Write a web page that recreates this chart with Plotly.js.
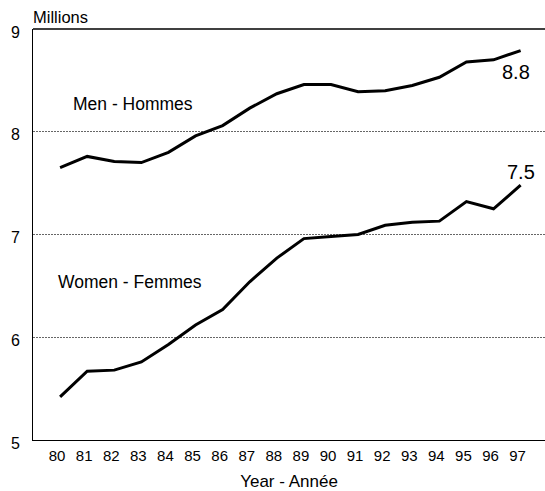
<!DOCTYPE html>
<html>
<head>
<meta charset="utf-8">
<script src="https://cdn.plot.ly/plotly-3.0.1.min.js"></script>
<style>html,body{margin:0;padding:0;background:#fff;}#chart{width:545px;height:491px;}</style>
</head>
<body>
<div id="chart"></div>
<script>
var years = [80,81,82,83,84,85,86,87,88,89,90,91,92,93,94,95,96,97];
var tickLabels = ["80","81","82","83","84","85","86","87","88","89","90","91","92","93","94","95","96","97"];
var men = [7.65,7.76,7.71,7.70,7.80,7.96,8.06,8.23,8.37,8.46,8.46,8.39,8.40,8.45,8.53,8.68,8.70,8.79];
var women = [5.42,5.67,5.68,5.76,5.93,6.12,6.27,6.54,6.77,6.96,6.98,7.00,7.09,7.12,7.13,7.32,7.25,7.48];
var yTicks = [5,6,7,8,9];
var font = "Liberation Sans, Arial, sans-serif";

var traces = [
  {x: years, y: men, type: "scatter", mode: "lines", line: {color: "#000", width: 3}, hoverinfo: "skip"},
  {x: years, y: women, type: "scatter", mode: "lines", line: {color: "#000", width: 3}, hoverinfo: "skip"}
];

var layout = {
  width: 545, height: 491,
  margin: {l: 33, r: 0, t: 29, b: 51},
  paper_bgcolor: "#fff", plot_bgcolor: "#fff",
  showlegend: false,
  font: {family: font, color: "#000"},
  xaxis: {
    range: [79.0, 97.9],
    tickvals: years, ticktext: tickLabels,
    ticks: "", showgrid: false, zeroline: false,
    showline: true, linecolor: "#000", linewidth: 1,
    ticklabelshift: -3,
    ticklabelstandoff: 2,
    tickfont: {size: 15, family: font},
    title: {text: "Year - Année", font: {size: 17, family: font}, standoff: 16}
  },
  yaxis: {
    range: [5, 9],
    tickvals: yTicks, ticktext: yTicks.map(String),
    ticks: "", showgrid: true, gridcolor: "#666", griddash: "2px,1px", gridwidth: 1,
    zeroline: false, showline: true, linecolor: "#000", linewidth: 1,
    ticklabelstandoff: 9,
    ticklabelshift: 3,
    tickfont: {size: 16, family: font}
  },
  shapes: [
    {type: "line", xref: "paper", yref: "paper", x0: 0, x1: 1, y0: 1, y1: 1, line: {color: "#000", width: 1.5}}
  ],
  annotations: [
    {text: "Millions", xref: "paper", yref: "paper", x: 0, y: 1, xanchor: "left", yanchor: "middle", xshift: -2, yshift: 12, showarrow: false, font: {size: 16.5, family: font}},
    {text: "Men - Hommes", xref: "x", yref: "y", x: 82.69, y: 8.274, showarrow: false, font: {size: 17.5, family: font}},
    {text: "Women - Femmes", xref: "x", yref: "y", x: 82.58, y: 6.539, showarrow: false, font: {size: 17.5, family: font}},
    {text: "8.8", xref: "x", yref: "y", x: years[years.length-1], y: men[men.length-1], xshift: -5, yshift: -21, showarrow: false, font: {size: 20, family: font}},
    {text: "7.5", xref: "x", yref: "y", x: years[years.length-1], y: women[women.length-1], xshift: 0, yshift: 13, showarrow: false, font: {size: 20, family: font}}
  ]
};

Plotly.newPlot("chart", traces, layout, {displayModeBar: false, staticPlot: true});
</script>
</body>
</html>
